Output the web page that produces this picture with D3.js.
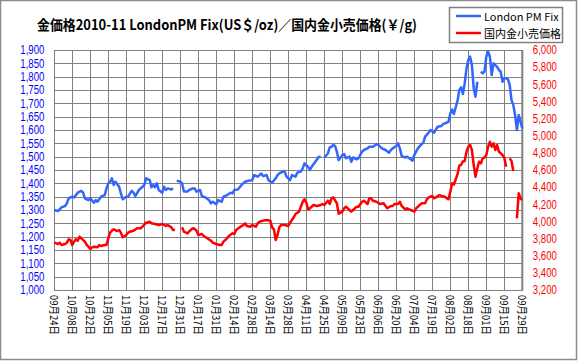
<!DOCTYPE html>
<html><head><meta charset="utf-8">
<script src="https://cdn.jsdelivr.net/npm/d3@7/dist/d3.min.js"></script>
<style>html,body{margin:0;padding:0;background:#fff;}svg{display:block;}</style>
</head><body>
<script>
const titleText = "金価格2010-11 LondonPM Fix(US＄/oz)／国内金小売価格(￥/g)";
const seriesNames = ["London PM Fix", "国内金小売価格"];
const categories = ["09月24日","10月08日","10月22日","11月05日","11月19日","12月03日","12月17日","12月31日","01月17日","01月31日","02月14日","02月28日","03月14日","03月28日","04月11日","04月25日","05月09日","05月23日","06月06日","06月20日","07月04日","07月19日","08月02日","08月18日","09月01日","09月15日","09月29日"];
const leftTicks = [1000,1050,1100,1150,1200,1250,1300,1350,1400,1450,1500,1550,1600,1650,1700,1750,1800,1850,1900];
const rightTicks = [3200,3400,3600,3800,4000,4200,4400,4600,4800,5000,5200,5400,5600,5800,6000];

// trading-day index (10 per category step) and values; null = no fixing
const londonDay = [0,2,4,6,7,8,10,11,13,15,16,17,19,20,22,23,24,26,28,29,30,31,32,33,34,36,37,38,40,41,43,44,45,47,49,50,51,53,54,55,56,57,58,60,61,62,63,65,66,67,68,70,71,72,74,75,77,78,79,81,82,84,86,87,88,90,91,93,94,96,98,99,100,102,104,106,108,110,111,113,115,116,118,119,121,123,124,125,127,128,129,131,132,134,135,137,138,139,141,142,143,145,147,148,149,150,152,153,154,155,156,157,158,160,161,162,164,165,166,168,169,171,172,174,175,177,179,180,182,184,186,187,188,190,191,192,193,195,196,198,199,200,201,202,204,205,206,208,209,211,212,213,215,216,217,219,220,221,222,224,225,226,227,228,229,230,231,232,233,234,235,236,237,238,239,240,241,242,243,244,246,247,248,249,250,251,252,253,254,255,256,257,258,259,260];
const londonFix = [1300,1296,1310,1315,1325,1344,1350,1347,1365,1372,1365,1344,1337,1344,1327,1337,1331,1350,1356,1381,1400,1406,1419,1394,1406,1387,1362,1340,1350,1350,1372,1365,1352,1375,1387,1394,1419,1412,1385,1394,1385,1400,1375,1365,1387,1375,1381,1377,1381,null,1410,1406,1400,1369,1369,1375,1381,1381,1369,1375,1352,1347,1337,1325,1331,1322,1337,1331,1350,1356,1365,1362,1375,1377,1394,1406,1410,1412,1431,1425,1437,1427,1431,1412,1402,1419,1431,1437,1444,1444,1425,1412,1431,1425,1440,1444,1456,1475,1462,1450,1462,1481,1500,1500,null,1497,1512,1535,1537,1544,1540,1518,1487,1506,1510,1494,1500,1481,1497,1490,1494,1519,1525,1531,1537,1537,1547,1544,1531,1525,1515,1525,1531,1540,1550,1531,1502,1497,1500,1490,1485,1506,1519,1531,1547,1552,1575,1590,1600,1590,1602,1612,1615,1622,1625,1631,1662,1677,1660,1709,1750,1760,1735,1775,1831,1862,1875,1844,1756,1725,1781,null,1819,1812,1819,1875,1894,1875,1806,1850,1837,1825,1819,1781,1794,1794,1791,1769,1712,1694,1656,1600,1656,1631,1606];

const retailDay = [0,2,3,4,6,7,8,9,10,11,12,13,14,15,17,18,19,20,21,22,24,25,26,28,29,30,31,32,33,35,36,37,38,40,41,42,44,46,48,49,51,53,54,56,58,60,62,63,65,66,67,68,71,72,74,75,77,78,79,80,82,83,85,87,88,90,92,93,94,96,97,99,100,101,103,105,106,107,109,110,112,113,114,116,118,120,121,122,123,124,125,126,128,130,131,133,134,136,137,138,139,140,141,142,144,146,148,149,150,152,153,154,155,157,158,160,161,162,164,165,166,168,169,171,172,174,175,176,177,179,181,183,184,185,187,188,189,191,192,193,195,196,198,199,200,201,203,204,206,207,208,210,211,212,214,215,217,218,219,220,221,222,224,225,226,227,228,229,230,231,232,233,234,235,236,237,238,239,240,241,242,243,244,245,246,247,248,249,250,251,252,253,254,255,256,257,258,259,260];
const retailPrice = [3752,3737,3752,3725,3737,3752,3791,3783,3725,3764,3791,3775,3822,3803,3764,3725,3705,3678,3698,3705,3698,3725,3713,3725,3725,3803,3869,3892,3908,3888,3900,3869,3815,3842,3869,3880,3892,3920,3920,3939,3985,3997,3978,3970,3958,3970,3947,3958,3931,3900,3900,null,3931,3880,3861,3886,3920,3912,3892,3842,3853,3830,3803,3775,3752,3737,3725,3725,3764,3803,3830,3861,3853,3900,3931,3958,3978,3947,3939,3958,3939,3978,3997,4009,4017,4009,3931,3908,3783,3842,3931,3958,3958,3947,3985,4048,4087,4114,4172,4230,4258,4219,4141,4153,4192,4180,4192,4203,4192,4242,4203,4270,4281,4210,4090,4114,4153,4172,4133,4114,4133,4172,4172,4230,4242,4203,4270,4270,4242,4230,4203,4211,4180,4153,4180,4180,4203,4203,4230,4180,4141,4153,4133,4125,4114,4153,4192,4211,4211,4258,4281,4297,4270,4281,4308,4297,4289,4270,4258,4347,4444,4430,4550,4650,4660,4700,4705,4814,4872,4892,4833,4658,4522,4620,4697,4678,4736,4744,4775,4872,4930,4872,4911,4833,4892,4814,4795,4775,4744,4639,null,4736,4705,4588,null,4036,4328,4270,4250];

const W = 579, H = 362;
const m = {left: 54.3, right: 522.3, top: 50, bottom: 290};
const svg = d3.select("body").append("svg").attr("width", W).attr("height", H);
const gridColor = "#808080";
const blue = "#3366FF", red = "#FF0000";

// outer frame
svg.append("rect").attr("x", 0.5).attr("y", 0.5).attr("width", 576).attr("height", 359)
  .attr("fill", "#fff").attr("stroke", "#8c8c8c").attr("stroke-width", 1.5);

const x = d3.scaleLinear().domain([0, (categories.length - 1) * 10]).range([m.left, m.right]);
const yL = d3.scaleLinear().domain([1000, 1900]).range([m.bottom, m.top]);
const yR = d3.scaleLinear().domain([3200, 6000]).range([m.bottom, m.top]);

// horizontal gridlines
const gy = svg.append("g").attr("transform", `translate(${m.left},0)`)
  .call(d3.axisLeft(yL).tickValues(leftTicks).tickSize(-(m.right - m.left)).tickFormat(""));
gy.select(".domain").remove();
gy.selectAll("line").attr("stroke", gridColor).attr("stroke-width", 1).attr("shape-rendering", "crispEdges");

// vertical gridlines
const tickIdx = categories.map((c, i) => i * 10);
const gx = svg.append("g").attr("transform", `translate(0,${m.bottom})`)
  .call(d3.axisBottom(x).tickValues(tickIdx).tickSize(-(m.bottom - m.top)).tickFormat(""));
gx.select(".domain").remove();
gx.selectAll("line").attr("stroke", gridColor).attr("stroke-width", 1).attr("shape-rendering", "crispEdges");

// plot border
svg.append("rect").attr("x", m.left).attr("y", m.top).attr("width", m.right - m.left).attr("height", m.bottom - m.top)
  .attr("fill", "none").attr("stroke", gridColor).attr("stroke-width", 1).attr("shape-rendering", "crispEdges");
svg.append("line").attr("x1", m.right).attr("x2", m.right).attr("y1", m.top).attr("y2", m.bottom)
  .attr("stroke", gridColor).attr("stroke-width", 2);

// left axis labels
const axL = svg.append("g").attr("transform", `translate(${m.left},0)`)
  .call(d3.axisLeft(yL).tickValues(leftTicks).tickSize(0).tickPadding(10).tickFormat(d3.format(",")));
axL.select(".domain").remove();
axL.selectAll("text").attr("fill", "#0000FF").attr("font-family", "Liberation Sans, Arial, sans-serif")
  .attr("font-size", 12).attr("textLength", 24).attr("lengthAdjust", "spacingAndGlyphs");

// right axis labels
const axR = svg.append("g").attr("transform", `translate(${m.right},0)`)
  .call(d3.axisRight(yR).tickValues(rightTicks).tickSize(0).tickPadding(10.5).tickFormat(d3.format(",")));
axR.select(".domain").remove();
axR.selectAll("text").attr("fill", "#FF0000").attr("font-family", "Liberation Sans, Arial, sans-serif")
  .attr("font-size", 12).attr("textLength", 24).attr("lengthAdjust", "spacingAndGlyphs");

// bottom labels (vertical)
const axB = svg.append("g").attr("transform", `translate(0,${m.bottom})`)
  .call(d3.axisBottom(x).tickValues(tickIdx).tickSize(0).tickFormat((d, i) => categories[i]));
axB.select(".domain").remove();
axB.selectAll("text")
  .attr("font-family", "Noto Sans CJK JP, sans-serif").attr("font-size", 11).attr("fill", "#000")
  .attr("y", 0).attr("dy", 0)
  .attr("text-anchor", "start").attr("dominant-baseline", "central")
  .attr("transform", "translate(0,5) rotate(90)")
  .attr("textLength", 40).attr("lengthAdjust", "spacingAndGlyphs");

// lines
const blueData = londonDay.map((d, i) => ({d, v: londonFix[i]}));
const redData = retailDay.map((d, i) => ({d, v: retailPrice[i]}));
const lineL = d3.line().defined(p => p.v != null).x(p => x(p.d)).y(p => yL(p.v));
const lineR = d3.line().defined(p => p.v != null).x(p => x(p.d)).y(p => yR(p.v));
svg.append("path").datum(blueData).attr("d", lineL).attr("fill", "none")
  .attr("stroke", blue).attr("stroke-width", 2.5).attr("stroke-linejoin", "round");
svg.append("path").datum(redData).attr("d", lineR).attr("fill", "none")
  .attr("stroke", red).attr("stroke-width", 2.5).attr("stroke-linejoin", "round");

// title
svg.append("text").attr("x", 37).attr("y", 30).text(titleText)
  .attr("font-family", "Noto Sans CJK JP, sans-serif").attr("font-weight", "bold").attr("font-size", 14)
  .attr("textLength", 380).attr("lengthAdjust", "spacingAndGlyphs").attr("fill", "#000");

// legend
const lg = svg.append("g");
lg.append("rect").attr("x", 449.5).attr("y", 7.5).attr("width", 113).attr("height", 35)
  .attr("fill", "#fff").attr("stroke", "#808080").attr("stroke-width", 1.5);
const items = [{name: seriesNames[0], c: blue, y: 16}, {name: seriesNames[1], c: red, y: 33}];
items.forEach(it => {
  lg.append("line").attr("x1", 456).attr("x2", 481).attr("y1", it.y).attr("y2", it.y)
    .attr("stroke", it.c).attr("stroke-width", 2.5);
  lg.append("text").attr("x", 484).attr("y", it.y).attr("dominant-baseline", "central")
    .attr("font-family", "Noto Sans CJK JP, sans-serif").attr("font-size", 11).attr("fill", "#000")
    .text(it.name);
});
</script>
</body></html>
